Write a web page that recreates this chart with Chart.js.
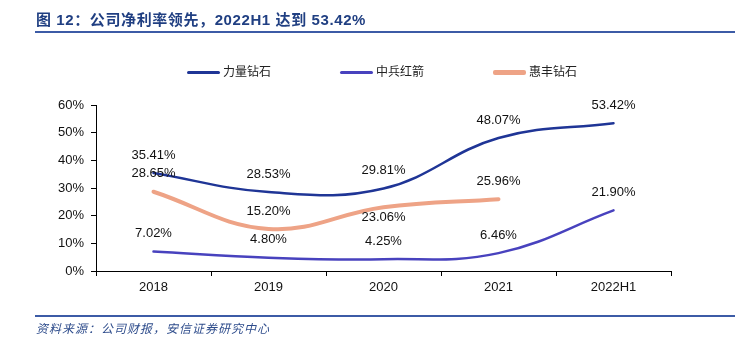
<!DOCTYPE html>
<html>
<head>
<meta charset="utf-8">
<script src="https://cdn.jsdelivr.net/npm/chart.js@4/dist/chart.umd.min.js"></script>
<style>
  body { margin: 0; background: #fff; }
  #wrap { position: relative; width: 735px; height: 350px; overflow: hidden; }
  #c { position: absolute; left: 0; top: 0; }
  .title {
    position: absolute; left: 36px; top: 8px;
    font: bold 15px "Liberation Sans", "Noto Sans CJK SC", sans-serif;
    color: #203f82; letter-spacing: 0.6px; white-space: nowrap;
  }
  .rule { position: absolute; left: 35px; right: 0; height: 2px; background: #3c5ba6; }
  .source {
    position: absolute; left: 36px; top: 319px;
    font: italic 12px "Noto Sans CJK SC", sans-serif;
    color: #2f4d8c; letter-spacing: 1px; white-space: nowrap;
  }
  .legend { position: absolute; top: 62px; font: 12px "Noto Sans CJK SC", sans-serif; color: #222; white-space: nowrap; }
  .legend span.sw { display: inline-block; width: 33px; vertical-align: middle; margin-right: 3px; border-radius: 2px; }
</style>
</head>
<body>
<div id="wrap">
  <canvas id="c" width="735" height="350"></canvas>
  <div class="title">图 12：公司净利率领先，2022H1 达到 53.42%</div>
  <div class="rule" style="top:31px"></div>
  <div class="rule" style="top:315px"></div>
  <div class="source">资料来源：公司财报，安信证券研究中心</div>
  <div id="legend"></div>
</div>
<script>
// 数据
const years = ['2018', '2019', '2020', '2021', '2022H1'];
const liliang = [35.41, 28.53, 29.81, 48.07, 53.42];   // 力量钻石
const zhongbing = [7.02, 4.80, 4.25, 6.46, 21.90];     // 中兵红箭
const huifeng = [28.65, 15.20, 23.06, 25.96, null];    // 惠丰钻石
const yTicks = [0, 10, 20, 30, 40, 50, 60];

const series = [
  { label: '力量钻石', data: liliang, color: '#1f3596', width: 2.5 },
  { label: '中兵红箭', data: zhongbing, color: '#4842be', width: 2.5 },
  { label: '惠丰钻石', data: huifeng, color: '#eea386', width: 4 },
];

// 图例 (html)
const legendX = [187, 340, 493];
document.getElementById('legend').innerHTML = series.map((s, i) =>
  '<div class="legend" style="left:' + legendX[i] + 'px"><span class="sw" style="height:' +
  (s.width + 0.5) + 'px;background:' + s.color + '"></span>' + s.label + '</div>').join('');

// 数据标签
const valueLabels = {
  id: 'valueLabels',
  afterDatasetsDraw(chart) {
    const ctx = chart.ctx;
    ctx.save();
    ctx.font = '13px "Liberation Sans", Arial, sans-serif';
    ctx.fillStyle = '#111';
    ctx.textAlign = 'center';
    ctx.textBaseline = 'middle';
    chart.data.datasets.forEach((ds, di) => {
      chart.getDatasetMeta(di).data.forEach((pt, i) => {
        const v = ds.data[i];
        if (v == null) return;
        // 惠丰 2020 的标签放在线下方
        const dy = (di === 2 && i === 2) ? 10 : -18;
        ctx.fillText(v.toFixed(2) + '%', pt.x, pt.y + dy);
      });
    });
    ctx.restore();
  }
};

const axisFont = { family: '"Liberation Sans", Arial, sans-serif', size: 13 };

new Chart(document.getElementById('c').getContext('2d'), {
  type: 'line',
  data: {
    labels: years,
    datasets: series.map(s => ({
      label: s.label,
      data: s.data,
      borderColor: s.color,
      backgroundColor: s.color,
      borderWidth: s.width,
      borderCapStyle: 'round',
      tension: 0.4,
      pointRadius: 0,
      fill: false,
      spanGaps: false,
    })),
  },
  options: {
    responsive: false,
    animation: false,
    layout: { padding: { left: 0, right: 64, top: 105, bottom: 49 } },
    plugins: { legend: { display: false }, tooltip: { enabled: false } },
    scales: {
      x: {
        offset: true,
        afterFit: s => { s.height = 30; },
        border: { color: '#000', width: 1 },
        grid: { offset: true, drawOnChartArea: false, drawTicks: true, tickLength: 5, color: '#000' },
        ticks: { font: axisFont, color: '#111', padding: 4 },
      },
      y: {
        min: 0, max: 60,
        afterFit: s => { s.width = 96; },
        afterBuildTicks: s => { s.ticks = yTicks.map(v => ({ value: v })); },
        border: { color: '#000', width: 1 },
        grid: { drawOnChartArea: false, drawTicks: true, tickLength: 5, color: '#000' },
        ticks: { font: axisFont, color: '#111', padding: 7, callback: v => v + '%' },
      },
    },
  },
  plugins: [valueLabels],
});
</script>
</body>
</html>
